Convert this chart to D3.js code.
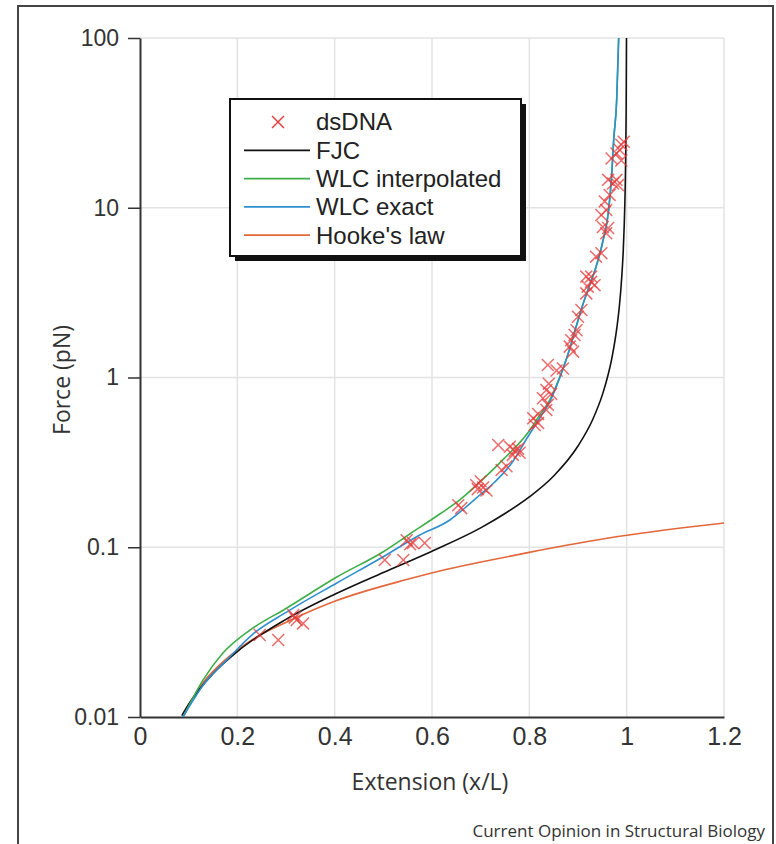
<!DOCTYPE html>
<html>
<head>
<meta charset="utf-8">
<script src="https://cdn.jsdelivr.net/npm/d3@7"></script>
<style>
  body { margin: 0; background: #fff; }
  svg { display: block; font-family: "Open Sans", "Liberation Sans", sans-serif; }
</style>
</head>
<body>
<div id="chart"></div>
<script>
// Tick values and labels
const xTicks = [0, 0.2, 0.4, 0.6, 0.8, 1, 1.2];
const xTickLabels = ["0", "0.2", "0.4", "0.6", "0.8", "1", "1.2"];
const yTicks = [0.01, 0.1, 1, 10, 100];
const yTickLabels = ["0.01", "0.1", "1", "10", "100"];

const legendLabels = ["dsDNA", "FJC", "WLC interpolated", "WLC exact", "Hooke's law"];

// dsDNA measurements (extension, force)
const dnaX = [0.246, 0.284, 0.315, 0.318, 0.322, 0.335,
  0.503, 0.541, 0.548, 0.555, 0.561, 0.585,
  0.654, 0.660, 0.691, 0.694, 0.700, 0.705, 0.712, 0.736, 0.743, 0.753, 0.760, 0.766, 0.770, 0.777, 0.780,
  0.808, 0.811, 0.818, 0.818, 0.828, 0.835, 0.835, 0.838, 0.840, 0.845, 0.838, 0.856, 0.869,
  0.883, 0.886, 0.890, 0.893, 0.897, 0.900, 0.907, 0.917, 0.917, 0.920, 0.927, 0.927, 0.934,
  0.937, 0.948, 0.951, 0.958, 0.962, 0.948, 0.958, 0.955, 0.965, 0.962, 0.972, 0.979, 0.982,
  0.969, 0.979, 0.986, 0.989, 0.994, 0.989];
const dnaF = [0.0304, 0.0284, 0.0399, 0.0385, 0.0373, 0.0356,
  0.0841, 0.0841, 0.110, 0.104, 0.106, 0.106,
  0.177, 0.170, 0.232, 0.220, 0.245, 0.225, 0.216, 0.40, 0.285, 0.30, 0.391, 0.35, 0.37, 0.38, 0.36,
  0.575, 0.525, 0.61, 0.54, 0.754, 0.644, 0.844, 0.69, 0.92, 0.80, 1.185, 1.10, 1.13,
  1.52, 1.66, 1.42, 1.78, 1.90, 2.28, 2.5, 3.13, 3.93, 3.43, 3.66, 3.93, 3.5,
  5.15, 5.4, 7.7, 7.07, 7.6, 9.06, 9.7, 10.9, 11.9, 14.6, 13.9, 14.6, 13.6,
  19.5, 20.9, 21.9, 23.5, 24.5, 19.0];

// Freely jointed chain
const fjcX = [0.086, 0.1, 0.15, 0.2, 0.3, 0.4, 0.5, 0.6, 0.7, 0.75, 0.8, 0.85, 0.9, 0.93,
  0.95, 0.96, 0.97, 0.98, 0.985, 0.99, 0.993, 0.995, 0.997, 0.998, 0.999, 0.9996];
const fjcF = [0.0102, 0.0119, 0.018, 0.0243, 0.0376, 0.0528, 0.071, 0.0948, 0.130, 0.158, 0.198, 0.263, 0.395, 0.564,
  0.79, 0.99, 1.32, 1.98, 2.63, 3.95, 5.6, 7.9, 13.2, 19.8, 39.5, 100];

// Worm-like chain, interpolation formula
const wlcIntX = [0.0883, 0.1294, 0.1704, 0.2259, 0.3018, 0.4045, 0.499, 0.5544, 0.616, 0.6571, 0.6982,
  0.7454, 0.7967, 0.8214, 0.8419, 0.8624, 0.8789, 0.8953, 0.9097, 0.924, 0.9363, 0.9507, 0.963,
  0.9692, 0.9733, 0.9795, 0.9836];
const wlcIntF = [0.01, 0.0165, 0.0238, 0.0325, 0.0439, 0.0668, 0.0938, 0.1197, 0.157, 0.190, 0.242,
  0.327, 0.471, 0.601, 0.737, 1.007, 1.357, 1.957, 2.674, 3.507, 4.418, 6.284, 9.698,
  15.59, 25.07, 43.1, 100];

// Worm-like chain, exact solution
const wlcExactX = [0.0883, 0.1335, 0.1786, 0.232, 0.3018, 0.4045, 0.499, 0.5749, 0.6366, 0.6674, 0.6982,
  0.729, 0.7639, 0.7967, 0.8214, 0.8419, 0.8624, 0.8789, 0.8953, 0.9097, 0.924, 0.9363, 0.9507,
  0.963, 0.9692, 0.9733, 0.9795, 0.9836];
const wlcExactF = [0.01, 0.0159, 0.0217, 0.0308, 0.0416, 0.0616, 0.0876, 0.1181, 0.1447, 0.1703, 0.2031,
  0.2424, 0.3135, 0.4462, 0.5773, 0.7172, 0.9933, 1.357, 1.957, 2.674, 3.507, 4.418, 6.284,
  9.698, 15.59, 25.07, 43.1, 100];

// Hooke's law
const hookeX = [0.0889, 0.1232, 0.171, 0.2259, 0.308, 0.404, 0.5476, 0.616, 0.698, 0.797, 0.9856, 1.2];
const hookeF = [0.01, 0.015, 0.0212, 0.028, 0.037, 0.0485, 0.0645, 0.0725, 0.0815, 0.093, 0.116, 0.139];

const seriesColors = ["#e53a3a", "#111111", "#3fae49", "#2e8fd0", "#e2673a"];

const width = 776;
const height = 844;
const plot = { left: 140, right: 724, top: 38, bottom: 717 };

const svg = d3
  .select("#chart")
  .append("svg")
  .attr("width", width)
  .attr("height", height);

// Outer frame
svg
  .append("rect")
  .attr("x", 18)
  .attr("y", 6)
  .attr("width", 755)
  .attr("height", 860)
  .attr("fill", "none")
  .attr("stroke", "#444")
  .attr("stroke-width", 2);

// Scales
const x = d3.scaleLinear().domain([0, 1.2]).range([plot.left, plot.right]);
const y = d3.scaleLog().domain([0.01, 100]).range([plot.bottom, plot.top]);

// Gridlines
svg
  .append("g")
  .selectAll("line")
  .data(xTicks.slice(1))
  .enter()
  .append("line")
  .attr("x1", (d) => x(d))
  .attr("x2", (d) => x(d))
  .attr("y1", plot.top)
  .attr("y2", plot.bottom)
  .attr("stroke", "#e3e3e3")
  .attr("stroke-width", 1.5);

svg
  .append("g")
  .selectAll("line")
  .data(yTicks.slice(1))
  .enter()
  .append("line")
  .attr("x1", plot.left)
  .attr("x2", plot.right)
  .attr("y1", (d) => y(d))
  .attr("y2", (d) => y(d))
  .attr("stroke", "#e3e3e3")
  .attr("stroke-width", 1.5);

// Axes
const xAxis = svg
  .append("g")
  .attr("transform", `translate(0, ${plot.bottom})`)
  .call(
    d3.axisBottom(x)
      .tickValues(xTicks)
      .tickFormat((d, i) => xTickLabels[i])
      .tickSize(0)
      .tickPadding(10)
  );
xAxis.selectAll(".tick text").style("font-size", "25px").attr("fill", "#333");
xAxis.select(".domain").attr("stroke", "#333").attr("stroke-width", 2);

const yAxis = svg
  .append("g")
  .attr("transform", `translate(${plot.left}, 0)`)
  .call(
    d3.axisLeft(y)
      .tickValues(yTicks)
      .tickFormat((d, i) => yTickLabels[i])
      .tickSize(12)
      .tickSizeOuter(0)
      .tickPadding(9)
  );
yAxis.selectAll(".tick text").style("font-size", "23px").attr("fill", "#333");
yAxis.selectAll(".tick line").attr("stroke", "#333").attr("stroke-width", 1.5);
yAxis.select(".domain").attr("stroke", "#333").attr("stroke-width", 2);

// Curves, clipped to the plot area
svg
  .append("clipPath")
  .attr("id", "plot-clip")
  .append("rect")
  .attr("x", plot.left)
  .attr("y", plot.top)
  .attr("width", plot.right - plot.left)
  .attr("height", plot.bottom - plot.top);

const curves = [
  { xs: hookeX, fs: hookeF, color: seriesColors[4] },
  { xs: fjcX, fs: fjcF, color: seriesColors[1] },
  { xs: wlcIntX, fs: wlcIntF, color: seriesColors[2] },
  { xs: wlcExactX, fs: wlcExactF, color: seriesColors[3] },
];

const line = d3
  .line()
  .x((d) => x(d[0]))
  .y((d) => y(d[1]))
  .curve(d3.curveMonotoneX);

const curveGroup = svg.append("g").attr("clip-path", "url(#plot-clip)");
curves.forEach((c) => {
  curveGroup
    .append("path")
    .datum(c.xs.map((v, i) => [v, c.fs[i]]))
    .attr("d", line)
    .attr("fill", "none")
    .attr("stroke", c.color)
    .attr("stroke-width", 1.6);
});

// dsDNA markers
const cross = d3.symbol().type(d3.symbolX).size(95);
svg
  .append("g")
  .selectAll("path")
  .data(dnaX.map((v, i) => [v, dnaF[i]]))
  .enter()
  .append("path")
  .attr("transform", (d) => `translate(${x(d[0])}, ${y(d[1])})`)
  .attr("d", cross)
  .attr("fill", "none")
  .attr("stroke", seriesColors[0])
  .attr("stroke-width", 1.5)
  .attr("opacity", 0.75);

// Legend box with drop shadow
const legend = svg.append("g").attr("transform", "translate(230, 99)");
legend
  .append("rect")
  .attr("x", 5)
  .attr("y", 5)
  .attr("width", 291)
  .attr("height", 157)
  .attr("fill", "#111");
legend
  .append("rect")
  .attr("width", 291)
  .attr("height", 157)
  .attr("fill", "#fff")
  .attr("stroke", "#111")
  .attr("stroke-width", 2);

const rows = legend
  .selectAll(".row")
  .data(legendLabels)
  .enter()
  .append("g")
  .attr("class", "row")
  .attr("transform", (d, i) => `translate(0, ${23 + i * 28.3})`);

rows
  .filter((d, i) => i > 0)
  .append("line")
  .attr("x1", 14)
  .attr("x2", 80)
  .attr("stroke", (d, i) => seriesColors[i + 1])
  .attr("stroke-width", 1.8);

rows
  .filter((d, i) => i === 0)
  .append("path")
  .attr("transform", "translate(48, 0)")
  .attr("d", d3.symbol().type(d3.symbolX).size(95))
  .attr("fill", "none")
  .attr("stroke", seriesColors[0])
  .attr("stroke-width", 1.4);

rows
  .append("text")
  .attr("x", 86)
  .attr("dy", "0.35em")
  .style("font-family", "'Liberation Sans', Arial, sans-serif")
  .style("font-size", "24px")
  .attr("fill", "#222")
  .text((d) => d);

// Axis titles
svg
  .append("text")
  .attr("x", 430)
  .attr("y", 790)
  .attr("text-anchor", "middle")
  .style("font-size", "23px")
  .attr("fill", "#333")
  .text("Extension (x/L)");

svg
  .append("text")
  .attr("transform", "translate(70, 380) rotate(-90)")
  .attr("text-anchor", "middle")
  .style("font-size", "23px")
  .attr("fill", "#333")
  .text("Force (pN)");

// Source line
svg
  .append("text")
  .attr("x", 765)
  .attr("y", 837)
  .attr("text-anchor", "end")
  .style("font-size", "17px")
  .attr("fill", "#333")
  .text("Current Opinion in Structural Biology");
</script>
</body>
</html>
